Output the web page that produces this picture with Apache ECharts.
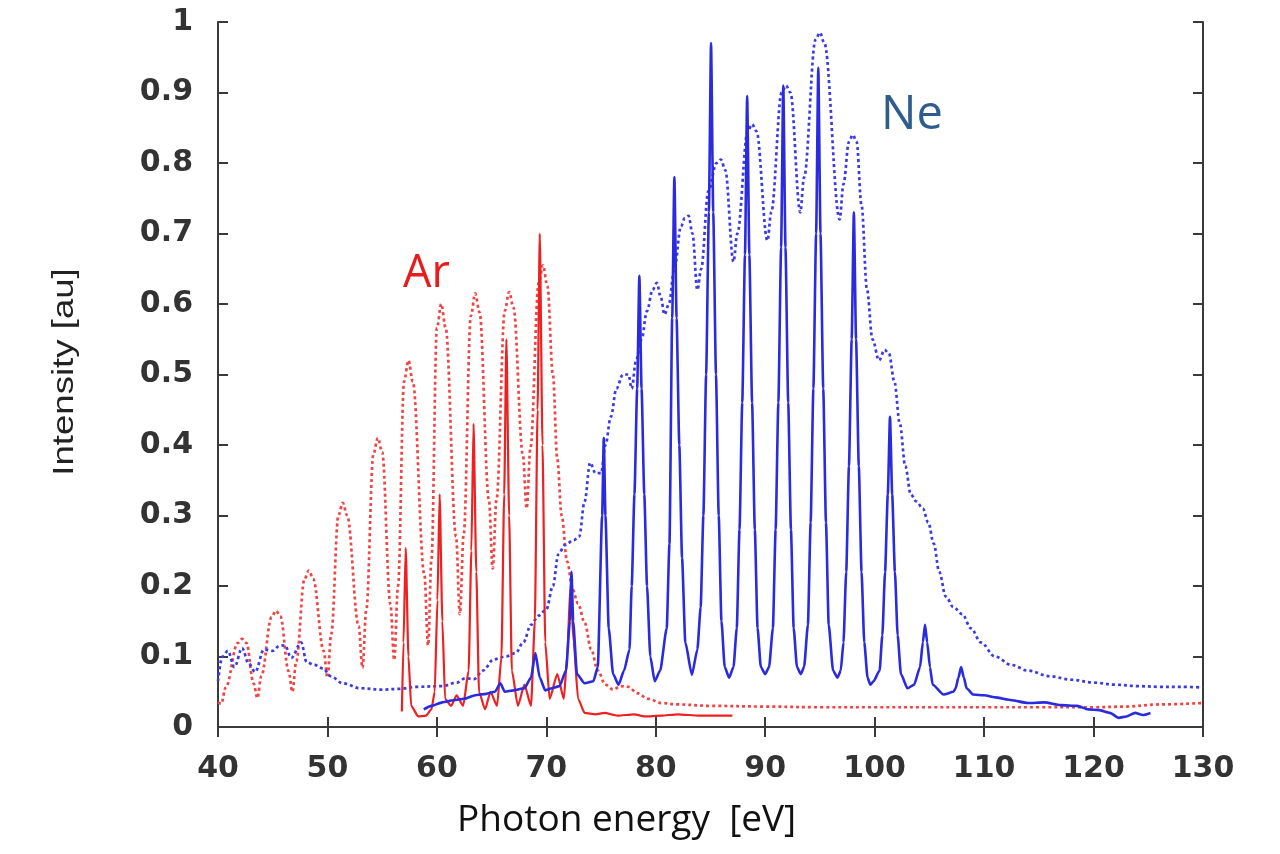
<!DOCTYPE html>
<html>
<head>
<meta charset="utf-8">
<script src="https://cdn.jsdelivr.net/npm/echarts@6/dist/echarts.min.js"></script>
<style>
html,body{margin:0;padding:0;background:#fff;}
#chart{width:1280px;height:854px;}
</style>
</head>
<body>
<div id="chart"></div>
<script>
// Photon energy [eV], intensity [au]
const xTicks = [40, 50, 60, 70, 80, 90, 100, 110, 120, 130];
const yTicks = [0, 0.1, 0.2, 0.3, 0.4, 0.5, 0.6, 0.7, 0.8, 0.9, 1];

const arDotted = [
  [40.0,0.035],[40.3,0.033],[40.7,0.056],[41.8,0.119],[42.2,0.125],[42.6,0.119],[43.25,0.062],[43.6,0.041],
  [43.95,0.072],[44.9,0.156],[45.3,0.165],[45.7,0.157],[46.45,0.079],[46.8,0.05],[47.15,0.093],[47.9,0.21],
  [48.3,0.222],[48.7,0.21],[49.65,0.108],[50.0,0.07],[50.35,0.132],[51.0,0.30],[51.4,0.318],[51.8,0.30],
  [52.85,0.143],[53.2,0.084],[53.55,0.166],[54.2,0.387],[54.6,0.41],[55.0,0.39],[55.75,0.174],[56.1,0.095],
  [56.45,0.2],[57.0,0.49],[57.4,0.52],[57.8,0.49],[58.85,0.217],[59.2,0.116],[59.5,0.237],[60.0,0.566],
  [60.4,0.60],[60.8,0.566],[61.75,0.27],[62.1,0.16],[62.45,0.274],[63.1,0.583],[63.5,0.615],[63.9,0.588],
  [64.75,0.322],[65.1,0.225],[65.45,0.323],[66.2,0.59],[66.6,0.617],[67.0,0.595],[67.85,0.387],[68.2,0.31],
  [68.55,0.396],[69.3,0.63],[69.7,0.655],[70.1,0.625],[70.6,0.5],[71.0,0.38],[71.4,0.3],[71.9,0.235],
  [72.4,0.195],[72.9,0.175],[73.5,0.148],[74.1,0.11],[74.7,0.08],[75.4,0.06],[76.1,0.053],[76.8,0.058],
  [77.5,0.057],[78.3,0.048],[79.3,0.04],[80.5,0.034],[82,0.032],[85,0.03],[90,0.029],[95,0.028],
  [100,0.028],[105,0.028],[110,0.028],[115,0.028],[120,0.028],[123,0.029],[126,0.032],[130,0.034]
];

const arSolid = [
  [56.8,0.022],[56.95,0.12],[57.15,0.254],[57.4,0.1],[57.65,0.03],[58.3,0.015],[59.0,0.016],[59.5,0.025],
  [59.8,0.05],[60.05,0.18],[60.25,0.33],[60.5,0.15],[60.75,0.04],[61.3,0.03],[61.8,0.045],[62.4,0.03],
  [62.9,0.08],[63.15,0.25],[63.35,0.43],[63.6,0.22],[63.85,0.05],[64.4,0.025],[64.9,0.05],[65.5,0.03],
  [65.9,0.1],[66.15,0.33],[66.35,0.55],[66.6,0.3],[66.85,0.08],[67.4,0.03],[68.0,0.06],[68.6,0.03],
  [68.95,0.15],[69.2,0.45],[69.4,0.70],[69.65,0.4],[69.9,0.12],[70.3,0.04],[71.0,0.075],[71.6,0.04],
  [71.9,0.1],[72.2,0.2],[72.5,0.12],[72.9,0.04],[73.5,0.02],[74.5,0.018],[75.3,0.02],[76.5,0.016],
  [78,0.018],[79,0.015],[80.5,0.016],[82,0.018],[84,0.016],[87,0.016]
];

const neDotted = [
  [40,0.065],[40.4,0.1],[40.9,0.108],[41.5,0.085],[42.2,0.112],[42.8,0.09],[43.4,0.078],[44.2,0.11],
  [45.0,0.108],[45.6,0.115],[46.1,0.116],[46.7,0.098],[47.6,0.12],[48.1,0.092],[48.8,0.088],[49.6,0.083],
  [50.3,0.072],[51.4,0.062],[53,0.055],[55,0.053],[56.5,0.054],[58.2,0.057],[60.5,0.058],[61.8,0.063],
  [62.6,0.069],[63.4,0.068],[64.2,0.08],[65.2,0.096],[66.3,0.1],[67.2,0.105],[67.9,0.12],[68.6,0.145],
  [69.3,0.158],[70.0,0.167],[70.6,0.2],[71.1,0.245],[71.7,0.258],[72.5,0.265],[73.0,0.27],[73.5,0.32],
  [74.0,0.375],[74.5,0.36],[75.0,0.36],[75.4,0.4],[75.9,0.44],[76.4,0.48],[77.0,0.5],[77.5,0.5],
  [77.8,0.48],[78.2,0.52],[78.7,0.55],[79.2,0.59],[79.7,0.62],[80.1,0.63],[80.45,0.61],[80.8,0.585],
  [81.2,0.6],[81.7,0.65],[82.3,0.71],[82.65,0.722],[83.0,0.725],[83.35,0.7],[83.8,0.62],[84.15,0.65],
  [84.8,0.76],[85.55,0.8],[85.95,0.805],[86.35,0.79],[87.1,0.66],[87.45,0.7],[88.4,0.845],[88.8,0.855],
  [89.2,0.845],[90.2,0.69],[90.55,0.73],[91.5,0.9],[91.9,0.91],[92.3,0.9],[93.2,0.73],[93.55,0.78],
  [94.6,0.975],[95.0,0.985],[95.4,0.97],[96.8,0.72],[97.15,0.77],[97.65,0.83],[98.0,0.84],[98.35,0.83],
  [98.8,0.74],[99.3,0.62],[99.8,0.55],[100.4,0.52],[100.9,0.535],[101.3,0.53],[101.8,0.49],[102.3,0.43],
  [102.8,0.37],[103.3,0.33],[103.8,0.32],[104.4,0.31],[104.9,0.29],[105.4,0.26],[105.9,0.22],[106.5,0.185],
  [107.2,0.17],[108.0,0.16],[108.8,0.14],[109.7,0.12],[111,0.1],[112.5,0.088],[114,0.08],[116,0.072],
  [118,0.067],[120,0.063],[122,0.06],[124,0.058],[126,0.057],[128,0.057],[130,0.056]
];

const neSolid = [
  [58.8,0.025],[59.5,0.03],[60.5,0.035],[61.5,0.038],[62.5,0.04],[63.5,0.045],[64.5,0.047],[65.3,0.05],
  [65.8,0.062],[66.2,0.05],[67,0.052],[68,0.055],[68.6,0.07],[69.0,0.105],[69.4,0.07],[69.9,0.052],
  [70.5,0.055],[71.2,0.058],[71.8,0.08],[72.15,0.15],[72.3,0.22],[72.45,0.15],[72.8,0.075],[73.5,0.062],
  [74.3,0.065],[74.7,0.085],[75.1,0.3],[75.25,0.41],[75.4,0.3],[75.7,0.14],[76.1,0.075],[76.6,0.06],
  [77.1,0.08],[77.6,0.11],[77.8,0.2],[78.05,0.33],[78.3,0.48],[78.5,0.64],[78.7,0.48],[78.95,0.33],
  [79.2,0.2],[79.5,0.1],[79.9,0.065],[80.4,0.08],[81.0,0.14],[81.25,0.26],[81.5,0.58],[81.7,0.78],
  [81.9,0.58],[82.15,0.4],[82.4,0.24],[82.7,0.12],[83.3,0.074],[83.8,0.11],[84.1,0.17],[84.35,0.3],
  [84.6,0.5],[84.85,0.73],[85.05,0.97],[85.25,0.73],[85.5,0.5],[85.75,0.3],[86.0,0.15],[86.3,0.085],
  [86.7,0.07],[87.1,0.085],[87.4,0.14],[87.65,0.28],[87.9,0.46],[88.15,0.67],[88.35,0.895],[88.55,0.67],
  [88.8,0.46],[89.05,0.28],[89.3,0.14],[89.6,0.085],[90.0,0.075],[90.35,0.085],[90.7,0.14],[90.95,0.28],
  [91.2,0.46],[91.45,0.68],[91.65,0.91],[91.85,0.68],[92.1,0.46],[92.35,0.28],[92.6,0.14],[92.9,0.085],
  [93.25,0.075],[93.55,0.085],[93.9,0.145],[94.15,0.29],[94.4,0.48],[94.65,0.7],[94.85,0.935],[95.05,0.7],
  [95.3,0.48],[95.55,0.29],[95.8,0.145],[96.2,0.08],[96.6,0.07],[96.9,0.08],[97.15,0.12],[97.4,0.22],
  [97.65,0.37],[97.9,0.55],[98.1,0.73],[98.3,0.55],[98.55,0.37],[98.8,0.22],[99.05,0.12],[99.35,0.07],
  [99.6,0.06],[99.9,0.065],[100.45,0.08],[100.7,0.13],[100.95,0.22],[101.2,0.33],[101.4,0.44],[101.6,0.33],
  [101.85,0.22],[102.1,0.13],[102.4,0.075],[103.0,0.055],[103.6,0.06],[104.15,0.085],[104.4,0.12],[104.6,0.145],
  [104.8,0.12],[105.05,0.085],[105.3,0.06],[106.3,0.046],[107.2,0.05],[107.4,0.055],[107.65,0.07],[107.9,0.085],
  [108.15,0.07],[108.4,0.055],[109.0,0.046],[110,0.045],[111,0.042],[112.5,0.038],[114,0.034],[115.5,0.035],
  [117,0.031],[118.5,0.03],[119.5,0.025],[120.5,0.024],[121.5,0.02],[122.3,0.013],[123,0.015],[123.8,0.02],
  [124.5,0.017],[125.2,0.02]
];

const labelAr = 'Ar';
const labelNe = 'Ne';
const xTitle = 'Photon energy  [eV]';
const yTitle = 'Intensity [au]';

const chart = echarts.init(document.getElementById('chart'), null, {renderer: 'canvas'});

const tickLabel = {
  fontFamily: 'DejaVu Sans', fontWeight: 'bold', fontSize: 30, color: '#333'
};
const axisLine = {show: true, lineStyle: {color: '#3a3a3a', width: 2}};
const axisTick = {show: true, inside: true, length: 10, lineStyle: {color: '#3a3a3a', width: 2}};

chart.setOption({
  animation: false,
  backgroundColor: '#fff',
  grid: {left: 218, right: 77, top: 22, bottom: 127, containLabel: false},
  xAxis: [{
    type: 'value', min: xTicks[0], max: xTicks[xTicks.length - 1], interval: 10,
    position: 'bottom',
    axisLine, axisTick, splitLine: {show: false},
    axisLabel: Object.assign({margin: 27}, tickLabel)
  }, {
    type: 'value', min: xTicks[0], max: xTicks[xTicks.length - 1], interval: 10,
    position: 'top',
    axisLine, axisTick, splitLine: {show: false}, axisLabel: {show: false}
  }],
  yAxis: [{
    type: 'value', min: yTicks[0], max: yTicks[yTicks.length - 1], interval: 0.1,
    position: 'left',
    axisLine, axisTick, splitLine: {show: false},
    axisLabel: Object.assign({margin: 25}, tickLabel)
  }, {
    type: 'value', min: yTicks[0], max: yTicks[yTicks.length - 1], interval: 0.1,
    position: 'right',
    axisLine, axisTick, splitLine: {show: false}, axisLabel: {show: false}
  }],
  series: [
    {
      name: 'Ar HHG (dotted)', type: 'line', data: arDotted, showSymbol: false,
      smooth: 0.35, smoothMonotone: 'x',
      lineStyle: {color: '#f04545', width: 2.7, type: [3, 3]}
    },
    {
      name: 'Ne HHG (dotted)', type: 'line', data: neDotted, showSymbol: false,
      smooth: 0.35, smoothMonotone: 'x',
      lineStyle: {color: '#3b3be6', width: 2.7, type: [3, 3]}
    },
    {
      name: 'Ar HHG', type: 'line', data: arSolid, showSymbol: false,
      smooth: 0.2, smoothMonotone: 'x',
      lineStyle: {color: '#ee2020', width: 2.2}
    },
    {
      name: 'Ne HHG', type: 'line', data: neSolid, showSymbol: false,
      smooth: 0.2, smoothMonotone: 'x',
      lineStyle: {color: '#2a2ae0', width: 2.6}
    }
  ],
  graphic: [
    {type: 'text', left: 403, top: 252,
     style: {text: labelAr, fontFamily: 'Open Sans', fontSize: 45, fill: '#e81c1c'}},
    {type: 'text', left: 881, top: 92,
     style: {text: labelNe, fontFamily: 'Open Sans', fontSize: 47, fill: '#2e5c8c'}},
    {type: 'text', left: 457, top: 802,
     style: {text: xTitle, fontFamily: 'Open Sans', fontSize: 37, fill: '#111'}},
    {type: 'text', x: 65, y: 372, rotation: Math.PI / 2, scaleX: 1.22,
     style: {text: yTitle, fontFamily: 'Liberation Sans', fontSize: 30, fill: '#222',
             textAlign: 'center', textVerticalAlign: 'middle'}}
  ]
});
</script>
</body>
</html>
